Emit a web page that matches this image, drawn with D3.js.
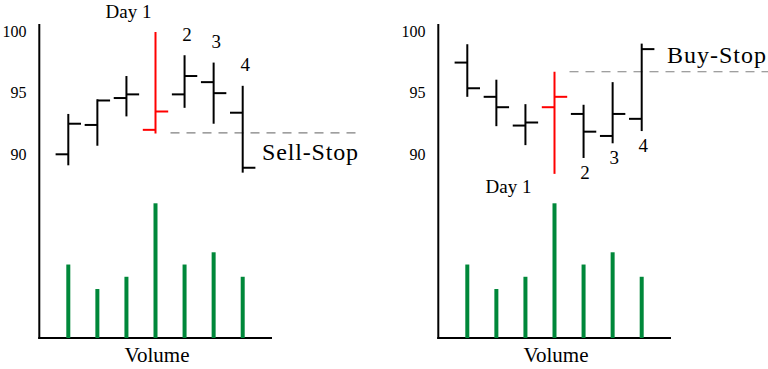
<!DOCTYPE html>
<html><head><meta charset="utf-8">
<script src="https://cdn.jsdelivr.net/npm/d3@7/dist/d3.min.js"></script>
<style>body{margin:0;background:#fff}svg{display:block}</style>
</head><body>
<svg id="c" width="768" height="369"></svg>
<script>
// ---- data ----
const priceTicks = [90, 95, 100];
const dayLabels = ["", "", "", "Day 1", "2", "3", "4"];
// left panel (sell-stop)
const leftOpen  = [90.0, 92.4, 94.6, 92.0, 94.9, 95.9, 93.4];
const leftHigh  = [93.3, 94.5, 96.4, 100.0, 98.1, 97.5, 95.6];
const leftLow   = [89.1, 90.7, 93.1, 91.7, 93.8, 92.5, 88.5];
const leftClose = [92.5, 94.4, 94.9, 93.5, 96.4, 95.0, 88.9];
const leftStop = 91.75;
// right panel (buy-stop)
const rightOpen  = [97.5, 94.7, 92.35, 93.85, 93.3, 91.5, 92.9];
const rightHigh  = [99.0, 96.1, 94.1, 96.75, 94.05, 95.9, 99.05];
const rightLow   = [94.7, 92.3, 90.75, 88.4, 89.7, 90.9, 91.9];
const rightClose = [95.4, 93.85, 92.6, 94.7, 91.85, 93.3, 98.6];
const rightStop = 96.75;
// volume (same in both panels)
const volume = [6, 4, 5, 11, 6, 7, 5];
const highlightIndex = 3;

const FONT = "'Liberation Serif', 'Times New Roman', Times, 'DejaVu Serif', 'Noto Serif', serif";
const svg = d3.select("#c");
const y = d3.scaleLinear().domain([90, 100]).range([154.3, 32]);
const yv = d3.scaleLinear().domain([0, 11]).range([338, 203.3]);

function txt(g) {
  return g.append("text").attr("font-family", FONT).attr("fill", "#000");
}

function panel(ox, open, high, low, close, stop, mode) {
  const g = svg.append("g").attr("transform", `translate(${ox},0)`);
  const x = d3.scaleLinear().domain([0, 6]).range([68.3, 242.7]);
  const idx = d3.range(open.length);
  const col = i => i === highlightIndex ? "#ff0000" : "#000";
  const tw = 12.7;

  // axes
  g.append("line").attr("x1", 39.3).attr("x2", 39.3).attr("y1", 24).attr("y2", 339).attr("stroke", "#000").attr("stroke-width", 2);
  g.append("line").attr("x1", 38.3).attr("x2", 272).attr("y1", 338).attr("y2", 338).attr("stroke", "#000").attr("stroke-width", 2);
  g.selectAll("text.tick").data(priceTicks).join("text").attr("class", "tick")
    .attr("font-family", FONT)
    .attr("x", 26.5).attr("y", d => y(d)).attr("dy", "0.33em").attr("text-anchor", "end")
    .attr("font-size", 16).text(d => d);

  // stop line
  const sx = x(highlightIndex) + 15;
  g.append("line").attr("x1", sx).attr("x2", mode === "sell" ? 358 : 369).attr("y1", y(stop)).attr("y2", y(stop))
    .attr("stroke", "#808080").attr("stroke-width", 1.2).attr("stroke-dasharray", "9,7");

  // OHLC bars
  g.selectAll("line.hl").data(idx).join("line").attr("class", "hl")
    .attr("x1", i => x(i)).attr("x2", i => x(i)).attr("y1", i => y(high[i])).attr("y2", i => y(low[i]))
    .attr("stroke", col).attr("stroke-width", 2);
  g.selectAll("line.op").data(idx).join("line").attr("class", "op")
    .attr("x1", i => x(i) - tw).attr("x2", i => x(i)).attr("y1", i => y(open[i])).attr("y2", i => y(open[i]))
    .attr("stroke", col).attr("stroke-width", 2);
  g.selectAll("line.cl").data(idx).join("line").attr("class", "cl")
    .attr("x1", i => x(i)).attr("x2", i => x(i) + tw).attr("y1", i => y(close[i])).attr("y2", i => y(close[i]))
    .attr("stroke", col).attr("stroke-width", 2);

  // volume bars
  g.selectAll("rect.vol").data(idx).join("rect").attr("class", "vol")
    .attr("x", i => x(i) - 2).attr("width", 4)
    .attr("y", i => yv(volume[i])).attr("height", i => yv(0) - yv(volume[i]))
    .attr("fill", "#00883a");

  // labels
  idx.forEach(i => {
    const t = dayLabels[i];
    if (!t) return;
    if (i === highlightIndex) {
      if (mode === "sell") {
        txt(g).attr("x", x(i) - 27).attr("y", 18).attr("text-anchor", "middle").attr("font-size", 19).text(t);
      } else {
        txt(g).attr("x", x(i) - 46).attr("y", 193).attr("text-anchor", "middle").attr("font-size", 19).text(t);
      }
    } else {
      if (mode === "sell") {
        txt(g).attr("x", x(i) + 2.5).attr("y", y(high[i]) - 21).attr("dy", "0.35em").attr("text-anchor", "middle").attr("font-size", 19).text(t);
      } else {
        txt(g).attr("x", x(i) + 1.5).attr("y", y(low[i]) + 14.5).attr("dy", "0.35em").attr("text-anchor", "middle").attr("font-size", 19).text(t);
      }
    }
  });

  if (mode === "sell") {
    txt(g).attr("x", 262).attr("y", 160).attr("font-size", 24).attr("textLength", 96).text("Sell-Stop");
  } else {
    txt(g).attr("x", 268).attr("y", 63).attr("font-size", 24).attr("textLength", 99).text("Buy-Stop");
  }
  txt(g).attr("x", 157).attr("y", 362).attr("text-anchor", "middle").attr("font-size", 21).text("Volume");
}

panel(0, leftOpen, leftHigh, leftLow, leftClose, leftStop, "sell");
panel(399, rightOpen, rightHigh, rightLow, rightClose, rightStop, "buy");
</script>
</body></html>
